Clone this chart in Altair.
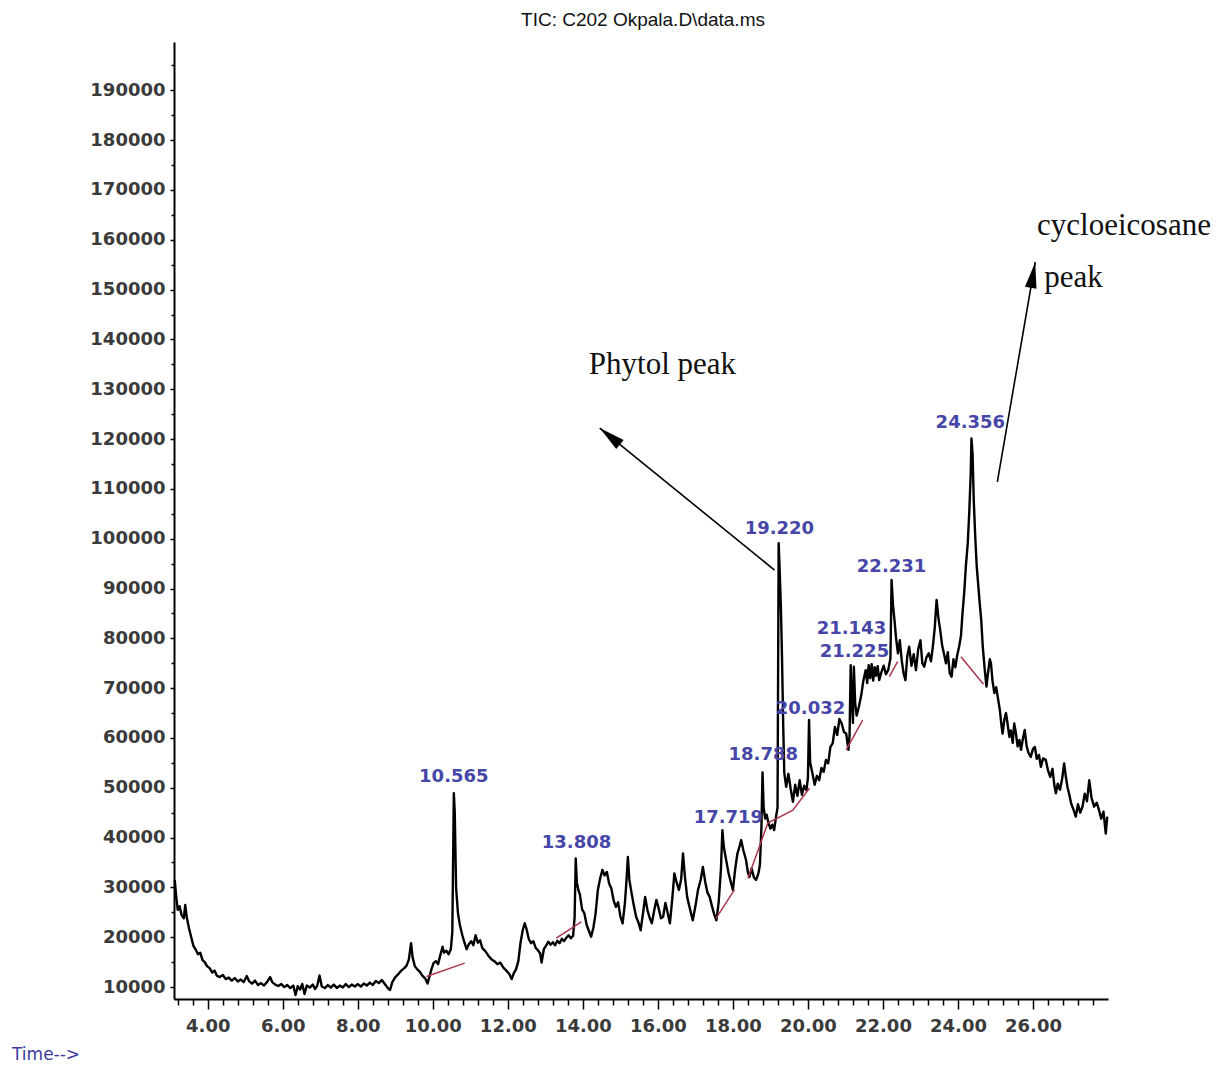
import altair as alt
import pandas as pd

# ---------------- data ----------------
time_min = [
    3.12, 3.16, 3.20, 3.25, 3.30, 3.36, 3.40, 3.44, 3.50, 3.56, 3.62, 3.68, 3.74, 3.80, 3.86, 3.92, 3.98,
    4.05, 4.12, 4.18, 4.24, 4.32, 4.40, 4.48, 4.56, 4.64, 4.72, 4.80, 4.88, 4.96,
    5.04, 5.10, 5.18, 5.26, 5.34, 5.42, 5.50, 5.58, 5.66, 5.72, 5.80, 5.88, 5.96,
    6.04, 6.12, 6.20, 6.28, 6.34, 6.40, 6.46, 6.52, 6.58, 6.64, 6.72, 6.80, 6.86, 6.92, 6.98,
    7.04, 7.12, 7.20, 7.28, 7.36, 7.44, 7.52, 7.60, 7.68, 7.76, 7.84, 7.92,
    8.00, 8.08, 8.16, 8.24, 8.32, 8.40, 8.48, 8.56, 8.64, 8.72, 8.80, 8.86, 8.92,
    9.00, 9.08, 9.16, 9.24, 9.30, 9.36, 9.42, 9.46, 9.52, 9.58, 9.66, 9.72, 9.80, 9.86, 9.90, 9.96,
    10.02, 10.08, 10.14, 10.20, 10.26, 10.30, 10.36, 10.42, 10.48, 10.52, 10.56, 10.585, 10.62, 10.67,
    10.72, 10.78, 10.84, 10.90, 10.96,
    11.02, 11.08, 11.14, 11.20, 11.26, 11.32, 11.40, 11.48, 11.56, 11.64, 11.72, 11.80, 11.88, 11.96,
    12.04, 12.10, 12.16, 12.22, 12.28, 12.34, 12.40, 12.45, 12.50, 12.56, 12.62, 12.68, 12.74, 12.80,
    12.86, 12.90, 12.96,
    13.02, 13.08, 13.14, 13.20, 13.26, 13.32, 13.38, 13.44, 13.50, 13.56, 13.62, 13.68, 13.74, 13.78,
    13.81, 13.84, 13.88, 13.92, 13.98,
    14.04, 14.10, 14.16, 14.22, 14.28, 14.34, 14.40, 14.46, 14.52, 14.58, 14.64, 14.70, 14.76, 14.82,
    14.88, 14.94,
    15.00, 15.06, 15.12, 15.16, 15.20, 15.24, 15.30, 15.36, 15.42, 15.48, 15.54, 15.60, 15.66, 15.72,
    15.78, 15.84, 15.90, 15.96,
    16.02, 16.08, 16.14, 16.20, 16.26, 16.32, 16.38, 16.44, 16.50, 16.56, 16.62, 16.67, 16.72, 16.78,
    16.86, 16.93,
    17.00, 17.07, 17.14, 17.20, 17.26, 17.32, 17.38, 17.44, 17.50, 17.56, 17.62, 17.68, 17.72, 17.76,
    17.82, 17.88, 17.94,
    18.00, 18.06, 18.12, 18.18, 18.22, 18.28, 18.35, 18.40, 18.44, 18.50, 18.56, 18.62, 18.68, 18.72,
    18.76, 18.79, 18.82, 18.86, 18.90, 18.95,
    19.00, 19.05, 19.10, 19.15, 19.19, 19.22, 19.25, 19.28, 19.31, 19.34, 19.37, 19.42, 19.48, 19.54,
    19.60, 19.66, 19.72, 19.78, 19.84, 19.90, 19.96,
    20.00, 20.03, 20.06, 20.12, 20.18, 20.24, 20.30, 20.36, 20.42, 20.48, 20.54, 20.60, 20.66, 20.72,
    20.78, 20.84, 20.90, 20.96,
    21.02, 21.08, 21.11, 21.14, 21.17, 21.20, 21.225, 21.26, 21.30, 21.36, 21.42, 21.48, 21.54, 21.58,
    21.62, 21.66, 21.70, 21.74, 21.78, 21.82, 21.86, 21.90, 21.95,
    22.02, 22.08, 22.14, 22.20, 22.23, 22.27, 22.31, 22.35, 22.40, 22.45, 22.50, 22.55, 22.60, 22.65,
    22.70, 22.76, 22.82, 22.88, 22.94,
    23.00, 23.05, 23.10, 23.16, 23.22, 23.28, 23.33, 23.38, 23.43, 23.48, 23.53, 23.58, 23.63, 23.68,
    23.73, 23.78, 23.83, 23.88, 23.93, 23.98,
    24.03, 24.08, 24.12, 24.17, 24.21, 24.26, 24.30, 24.34, 24.36, 24.39, 24.42, 24.46, 24.50, 24.53,
    24.58, 24.62, 24.66, 24.71, 24.76, 24.80, 24.85, 24.88, 24.92, 24.97,
    25.02, 25.07, 25.12, 25.16, 25.19, 25.24, 25.28, 25.32, 25.37, 25.41, 25.46, 25.50, 25.54, 25.59,
    25.64, 25.68, 25.73, 25.78, 25.83, 25.88, 25.94,
    26.00, 26.05, 26.10, 26.16, 26.21, 26.27, 26.34, 26.40, 26.46, 26.52, 26.57, 26.61, 26.66, 26.72,
    26.78, 26.83, 26.88, 26.92, 26.96,
    27.02, 27.08, 27.14, 27.20, 27.26, 27.32, 27.38, 27.44, 27.50, 27.56, 27.63, 27.70, 27.76, 27.82,
    27.88, 27.94, 27.98,
]
tic_abundance = [
    31500, 28000, 25500, 26200, 24500, 23800, 26500, 24000, 21800, 20000, 18200, 17500, 16600, 16900, 15400, 15000, 14200,
    13800, 12900, 13300, 12300, 12000, 12400, 11600, 11900, 11300, 11800, 11100, 11500, 11000,
    12200, 11200, 10700, 11300, 10400, 10800, 10300, 11000, 12000, 11000, 10500, 10200, 10600,
    10000, 10400, 9800, 10300, 8400, 10200, 9500, 10600, 8600, 10300, 9900, 10500, 9600, 10300, 12300,
    10100, 9800, 10400, 9900, 10500, 9800, 10300, 9900, 10600, 10000, 10500, 10100,
    10600, 10100, 10700, 10300, 10900, 10400, 11200, 10800, 11400, 10600, 9800, 9400, 11000,
    12000, 12600, 13300, 13800, 14300, 15500, 18800, 16000, 14200, 13600, 13000, 12300, 11700, 10700, 11800, 13500,
    14800, 15200, 14600, 16400, 18100, 16900, 17300, 16600, 17600, 21000, 48900, 45000, 30000, 24800,
    22500, 20600, 19000, 17600, 18600,
    19200, 18400, 20400, 18900, 19400, 17800, 17200, 16300, 15600, 15200, 14600, 14900, 13900, 13300,
    12600, 11600, 12800, 13600, 15200, 19000, 21500, 22800, 21600, 19600, 18800, 19200, 17900, 17400,
    16800, 14900, 17600,
    18300, 19100, 18500, 19000, 18400, 19300, 18800, 19700, 19200, 19900, 20400, 19800, 20300, 24000,
    35800, 31000, 29500, 28600, 25600,
    24800, 22500, 21300, 20100, 21900, 24800, 29500, 31800, 33500, 32400, 33100, 30800, 29800, 27400,
    26100, 27000,
    24200, 22800, 26800, 31000, 36100, 31500, 28800, 26300, 24100, 23000, 21400, 24600, 28100, 25500,
    23900, 22800, 25300, 27500,
    25800, 23800, 24100, 26900, 24900, 22800, 27400, 32800, 31000, 29500, 31600, 36800, 32200, 28100,
    25500, 23400,
    26200, 29500, 31500, 34100, 31200, 29000, 28100, 26300, 24600, 23400, 27000, 33500, 41500, 38000,
    35500, 33000, 31200,
    29500, 33600, 36800, 38300, 39500, 37400, 35500, 33000, 32100, 33800, 32000, 31500, 32800, 34500,
    42000, 53100, 46000, 43800, 44600, 42900,
    41800, 42600, 41500, 44200, 46000, 99100, 93000, 86000, 76000, 63000, 53000, 50200, 52800, 49800,
    47200, 50600, 48400, 51500, 48600, 50400, 49500,
    52000, 63600, 55000, 52900, 50600, 52400, 51500, 54000, 53200, 55600, 54900, 58200, 58900, 62200,
    60600, 63800, 62900, 61200,
    60900, 57600, 60500, 74600, 68000, 63000, 74300, 67000, 64500, 66300, 68500, 71600, 73600, 71000,
    74600, 72000, 74800, 71500, 74200, 72500, 74400, 71600, 73000,
    74500, 72800, 73600, 76000, 91700, 86500, 83500, 80000, 77000, 79600, 75600, 73000, 71600, 76500,
    78300, 74500, 76800, 73600, 77800,
    79600, 75000, 74300, 76200, 77000, 75400, 78300, 82000, 87700, 84000, 81500, 78500, 76800, 75000,
    77200, 73000, 72300, 75800, 74200, 76600,
    78300, 80500, 84900, 89500, 94400, 99000, 105100, 113000, 120100, 117000, 108000, 100500, 94500, 91700,
    87000, 83700, 78500, 74000, 70300, 73000, 75800, 75000, 71500, 69000,
    70200, 67800, 65400, 62500, 60900, 63800, 65000, 63000, 60200, 61500, 59000, 62900, 61200, 58300,
    59600, 57600, 59800, 61600, 58400, 57000, 56200,
    57800, 58200, 55800, 56600, 54200, 55900, 55600, 53500, 52200, 53800, 50500, 48900, 50800, 49600,
    51900, 54900, 52000, 50100, 48900,
    46800, 45600, 44200, 46700, 45000, 46200, 48800, 47300, 51500, 48000, 46200, 47000, 45500, 43800,
    45200, 40800, 44200,
]

# integration baselines (red segments)
base_seg = ["b1", "b1", "b2", "b2", "b3", "b3", "b4", "b4", "b4", "b4", "b5", "b5", "b6", "b6", "b7", "b7"]
base_time = [9.83, 10.85, 13.29, 13.96, 17.55, 18.04, 18.40, 18.93, 19.60, 20.04, 21.02, 21.46, 22.17, 22.39, 24.08, 24.68]
base_tic = [12100, 14800, 19800, 23100, 23800, 29500, 31800, 42900, 45500, 49900, 57600, 63600, 72300, 75300, 76300, 70800]

# retention-time labels
peak_labels = ["10.565", "13.808", "17.719", "18.788", "19.220", "20.032", "21.143", "21.225", "22.231", "24.356"]
peak_label_x = [10.56, 13.83, 17.88, 18.81, 19.24, 20.07, 21.16, 21.24, 22.23, 24.33]
peak_label_y = [52150, 38900, 43900, 56600, 101900, 65800, 81850, 77200, 94300, 123200]

# annotation arrows (start -> tip) and their texts
arrow_x1 = [19.11, 25.05]
arrow_y1 = [93700, 111400]
arrow_x2 = [14.45, 26.06]
arrow_y2 = [122200, 155500]
arrow_angle = [309, 10]
ann_text = ["Phytol peak", "cycloeicosane", "peak"]
ann_x = [14.16, 26.11, 26.30]
ann_y = [133000, 161000, 150500]

x_major = [4, 6, 8, 10, 12, 14, 16, 18, 20, 22, 24, 26]
x_minor = [round(3.2 + 0.4 * i, 1) for i in range(62) if round(3.2 + 0.4 * i, 1) % 2 != 0]
y_major = [10000 * i for i in range(1, 20)]
y_minor = [15000 + 10000 * i for i in range(19)]

title_text = "TIC: C202 Okpala.D\\data.ms"
xlabel_text = "Time-->"

# ---------------- chart ----------------
trace_df = pd.DataFrame({"t": time_min, "v": tic_abundance})
base_df = pd.DataFrame({"seg": base_seg, "t": base_time, "v": base_tic})
peak_df = pd.DataFrame({"lab": peak_labels, "x": peak_label_x, "y": peak_label_y})
arrow_df = pd.DataFrame({"x1": arrow_x1, "y1": arrow_y1, "x2": arrow_x2, "y2": arrow_y2, "ang": arrow_angle})
ann_df = pd.DataFrame({"txt": ann_text, "x": ann_x, "y": ann_y})

xs = alt.Scale(domain=[3.1, 28.0], nice=False, zero=False)
ys = alt.Scale(domain=[7600, 199700], nice=False, zero=False)

FONT = "DejaVu Sans"

trace = alt.Chart(trace_df).mark_line(color="black", strokeWidth=2.4, strokeJoin="round").encode(
    x=alt.X("t:Q", scale=xs, axis=alt.Axis(
        values=x_major, format=".2f", title=None, grid=False, labelFont=FONT, labelFontSize=18,
        labelFontWeight="bold", labelColor="#3a3a3a", tickSize=10, tickColor="black", tickWidth=1.5,
        domainColor="black", domainWidth=2, labelPadding=8, labelFlush=False, labelOverlap=False,
        orient="bottom")),
    y=alt.Y("v:Q", scale=ys, axis=alt.Axis(
        values=y_major, format="d", title=None, grid=False, labelFont=FONT, labelFontSize=18,
        labelFontWeight="bold", labelColor="#3a3a3a", tickSize=4, tickColor="black", tickWidth=1.5,
        domainColor="black", domainWidth=2, labelPadding=5, labelOverlap=False, orient="left")),
)

baselines = alt.Chart(base_df).mark_line(color="#a8384a", strokeWidth=1.5).encode(
    x=alt.X("t:Q", scale=xs, axis=alt.Axis(
        values=x_minor, labels=False, domain=False, title=None, grid=False, tickSize=6,
        tickColor="black", tickWidth=1.5, orient="bottom")),
    y=alt.Y("v:Q", scale=ys, axis=alt.Axis(
        values=y_minor, labels=False, domain=False, title=None, grid=False, tickSize=3,
        tickColor="black", tickWidth=1.5, orient="left")),
    detail="seg:N",
)

arrows = alt.Chart(arrow_df).mark_rule(color="black", strokeWidth=1.6).encode(
    x=alt.X("x1:Q", scale=xs, axis=None),
    y=alt.Y("y1:Q", scale=ys, axis=None),
    x2="x2:Q",
    y2="y2:Q",
)

heads = alt.Chart(arrow_df).mark_point(
    shape="M0,0L0.45,2L-0.45,2Z", filled=True, size=676, color="black", opacity=1
).encode(
    x=alt.X("x2:Q", scale=xs, axis=None),
    y=alt.Y("y2:Q", scale=ys, axis=None),
    angle=alt.Angle("ang:Q", scale=None),
)

peaks = alt.Chart(peak_df).mark_text(
    font=FONT, fontSize=18, fontWeight="bold", color="#4646a8", align="center", baseline="middle"
).encode(
    x=alt.X("x:Q", scale=xs, axis=None),
    y=alt.Y("y:Q", scale=ys, axis=None),
    text="lab:N",
)

ann = alt.Chart(ann_df).mark_text(
    font="Liberation Serif", fontSize=31, color="#111111", align="left", baseline="alphabetic"
).encode(
    x=alt.X("x:Q", scale=xs, axis=None),
    y=alt.Y("y:Q", scale=ys, axis=None),
    text="txt:N",
)

title_mark = alt.Chart(pd.DataFrame({"s": [title_text]})).mark_text(
    font="Liberation Sans", fontSize=19, color="#111111", align="center", baseline="alphabetic"
).encode(text="s:N", x=alt.value(469), y=alt.value(-16))

xlabel_mark = alt.Chart(pd.DataFrame({"s": [xlabel_text]})).mark_text(
    font=FONT, fontSize=17, color="#3a3aa0", align="left", baseline="alphabetic"
).encode(text="s:N", x=alt.value(-162), y=alt.value(1018))

chart = alt.layer(
    trace, baselines, arrows, heads, peaks, ann, title_mark, xlabel_mark
).resolve_axis(
    x="independent", y="independent"
).properties(
    width=934, height=957,
    padding={"left": 166, "top": 34, "right": 104, "bottom": 68},
    autosize=alt.AutoSizeParams(type="none"),
).configure_view(strokeWidth=0)

chart.save("out.html", embed_options={"renderer": "svg", "actions": False})
